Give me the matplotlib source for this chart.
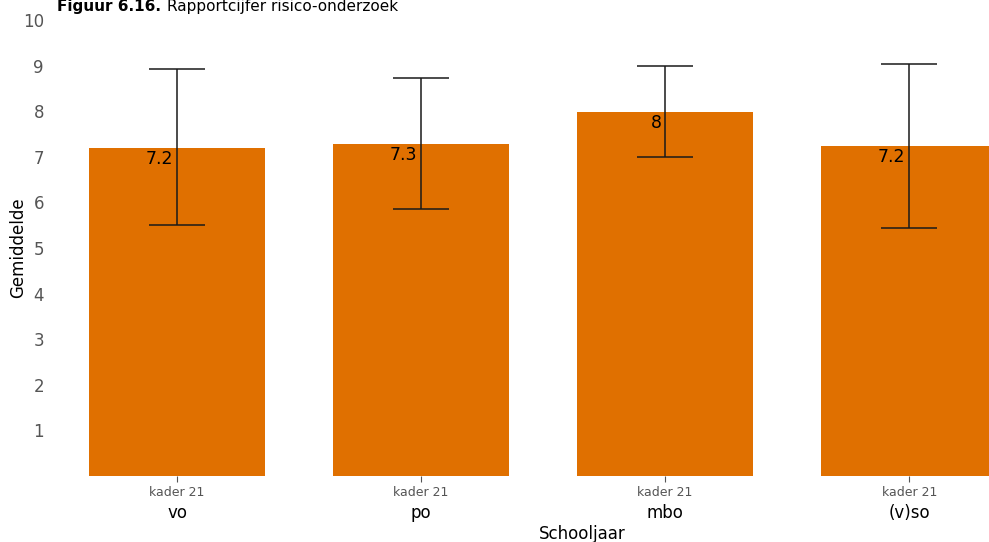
import matplotlib
matplotlib.use("Agg")
import matplotlib.pyplot as plt

categories = ["vo", "po", "mbo", "(v)so"]
group_labels = ["kader 21", "kader 21", "kader 21", "kader 21"]
means = [7.2, 7.28, 7.98, 7.24]
lower = [5.5, 5.86, 7.0, 5.44]
upper = [8.92, 8.73, 9.0, 9.03]
value_labels = ["7.2", "7.3", "8", "7.2"]
yticks = [1, 2, 3, 4, 5, 6, 7, 8, 9, 10]

W, H = 989, 542
fig = plt.figure(figsize=(W / 100, H / 100), dpi=100)
ax = fig.add_axes([55 / W, (H - 476) / H, (W - 55) / W, (476 - 20) / H])

x = list(range(len(categories)))
ax.bar(x, means, width=0.724, color="#e07000", zorder=1)
err_lo = [m - lo for m, lo in zip(means, lower)]
err_hi = [hi - m for m, hi in zip(means, upper)]
ax.errorbar(x, means, yerr=[err_lo, err_hi], fmt="none", ecolor="#1a1a1a",
            elinewidth=1.1, capsize=20, capthick=1.1, zorder=3)
for xi, m, lab in zip(x, means, value_labels):
    ax.text(xi - 0.015, m - 0.05, lab, ha="right", va="top", fontsize=12.5,
            color="black", zorder=4)

ax.set_xlim(-0.5, 3.327)
ax.set_ylim(0, 10)
ax.set_yticks(yticks)
ax.set_yticklabels([str(t) for t in yticks], fontsize=12, color="#555555")
ax.tick_params(axis="y", length=0, pad=8)
ax.set_xticks(x)
ax.set_xticklabels(group_labels, fontsize=9, color="#555555")
ax.tick_params(axis="x", length=4, color="#555555", pad=3)
for side in ax.spines.values():
    side.set_visible(False)

for xi, cat in zip(x, categories):
    ax.annotate(cat, xy=(xi, 0), xycoords=("data", "axes fraction"),
                xytext=(0, -37), textcoords="offset pixels",
                ha="center", va="center", fontsize=12)
fig.text(582 / W, 1 - 534 / H, "Schooljaar", ha="center", va="center",
         fontsize=12)
fig.text(18 / W, 1 - 248 / H, "Gemiddelde", ha="center", va="center",
         rotation=90, fontsize=12)

# title sits at the very top edge, like the reference, but kept inside
t1 = fig.text(57 / W, 1 - 11 / H, "Figuur 6.16.", ha="left", va="baseline",
              fontsize=11, fontweight="bold")
fig.canvas.draw()
bb = t1.get_window_extent()
fig.text((bb.x1 + 6) / W, 1 - 11 / H, "Rapportcijfer risico-onderzoek",
         ha="left", va="baseline", fontsize=11)

fig.savefig("out.png", dpi=100)
